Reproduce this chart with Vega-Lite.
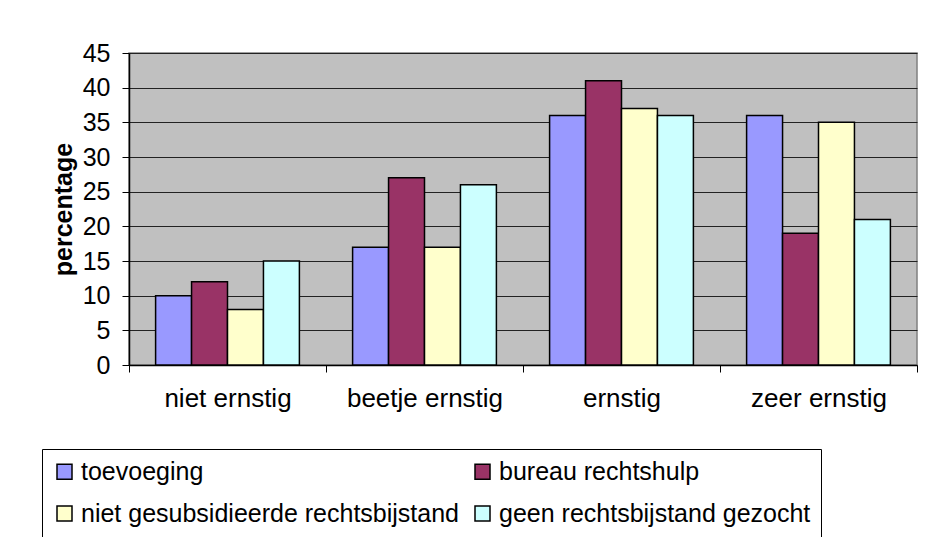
{
  "$schema": "https://vega.github.io/schema/vega-lite/v6.json",
  "width": 788,
  "height": 312,
  "autosize": {"type": "none"},
  "padding": {"left": 129, "top": 53, "right": 8, "bottom": 172},
  "background": "white",
  "config": {
    "font": "Liberation Sans",
    "view": {"fill": "#C0C0C0", "stroke": "#808080", "strokeWidth": 1.5}
  },
  "data": {
    "values": [
      {"ernst": "niet ernstig", "groep": "toevoeging", "pct": 10},
      {"ernst": "niet ernstig", "groep": "bureau rechtshulp", "pct": 12},
      {"ernst": "niet ernstig", "groep": "niet gesubsidieerde rechtsbijstand", "pct": 8},
      {"ernst": "niet ernstig", "groep": "geen rechtsbijstand gezocht", "pct": 15},
      {"ernst": "beetje ernstig", "groep": "toevoeging", "pct": 17},
      {"ernst": "beetje ernstig", "groep": "bureau rechtshulp", "pct": 27},
      {"ernst": "beetje ernstig", "groep": "niet gesubsidieerde rechtsbijstand", "pct": 17},
      {"ernst": "beetje ernstig", "groep": "geen rechtsbijstand gezocht", "pct": 26},
      {"ernst": "ernstig", "groep": "toevoeging", "pct": 36},
      {"ernst": "ernstig", "groep": "bureau rechtshulp", "pct": 41},
      {"ernst": "ernstig", "groep": "niet gesubsidieerde rechtsbijstand", "pct": 37},
      {"ernst": "ernstig", "groep": "geen rechtsbijstand gezocht", "pct": 36},
      {"ernst": "zeer ernstig", "groep": "toevoeging", "pct": 36},
      {"ernst": "zeer ernstig", "groep": "bureau rechtshulp", "pct": 19},
      {"ernst": "zeer ernstig", "groep": "niet gesubsidieerde rechtsbijstand", "pct": 35},
      {"ernst": "zeer ernstig", "groep": "geen rechtsbijstand gezocht", "pct": 21}
    ]
  },
  "mark": {"type": "bar", "stroke": "black", "strokeWidth": 1.5},
  "encoding": {
    "x": {
      "field": "ernst",
      "type": "nominal",
      "sort": ["niet ernstig", "beetje ernstig", "ernstig", "zeer ernstig"],
      "scale": {"paddingInner": 0, "paddingOuter": 0},
      "axis": {
        "title": null,
        "labelAngle": 0,
        "labelFontSize": 26,
        "labelColor": "black",
        "labelPadding": 13,
        "tickBand": "extent",
        "tickSize": 7,
        "tickColor": "black",
        "domainColor": "black",
        "domainWidth": 1.5,
        "grid": false
      }
    },
    "xOffset": {
      "field": "groep",
      "type": "nominal",
      "sort": ["toevoeging", "bureau rechtshulp", "niet gesubsidieerde rechtsbijstand", "geen rechtsbijstand gezocht"],
      "scale": {"paddingInner": 0, "paddingOuter": 0.74}
    },
    "y": {
      "field": "pct",
      "type": "quantitative",
      "scale": {"domain": [0, 45], "nice": false},
      "axis": {
        "title": "percentage",
        "titleFontSize": 25,
        "titleFontWeight": "bold",
        "titleColor": "black",
        "titlePadding": 6,
        "values": [0, 5, 10, 15, 20, 25, 30, 35, 40, 45],
        "labelFontSize": 25,
        "labelColor": "black",
        "labelPadding": 12,
        "tickSize": 7,
        "tickColor": "black",
        "domainColor": "black",
        "domainWidth": 1.5,
        "grid": true,
        "gridColor": "#222222",
        "gridWidth": 1
      }
    },
    "color": {
      "field": "groep",
      "type": "nominal",
      "scale": {
        "domain": ["toevoeging", "bureau rechtshulp", "niet gesubsidieerde rechtsbijstand", "geen rechtsbijstand gezocht"],
        "range": ["#9999FF", "#993366", "#FFFFCC", "#CCFFFF"]
      },
      "legend": {
        "title": null,
        "orient": "none",
        "legendX": -87,
        "legendY": 396,
        "columns": 2,
        "direction": "horizontal",
        "symbolType": "square",
        "symbolSize": 225,
        "symbolStrokeColor": "black",
        "symbolStrokeWidth": 1.5,
        "symbolOpacity": 1,
        "labelFontSize": 25,
        "labelColor": "black",
        "labelOffset": 4,
        "labelLimit": 600,
        "rowPadding": 16,
        "columnPadding": 10,
        "padding": 10,
        "strokeColor": "black",
        "fillColor": "white"
      }
    }
  }
}
